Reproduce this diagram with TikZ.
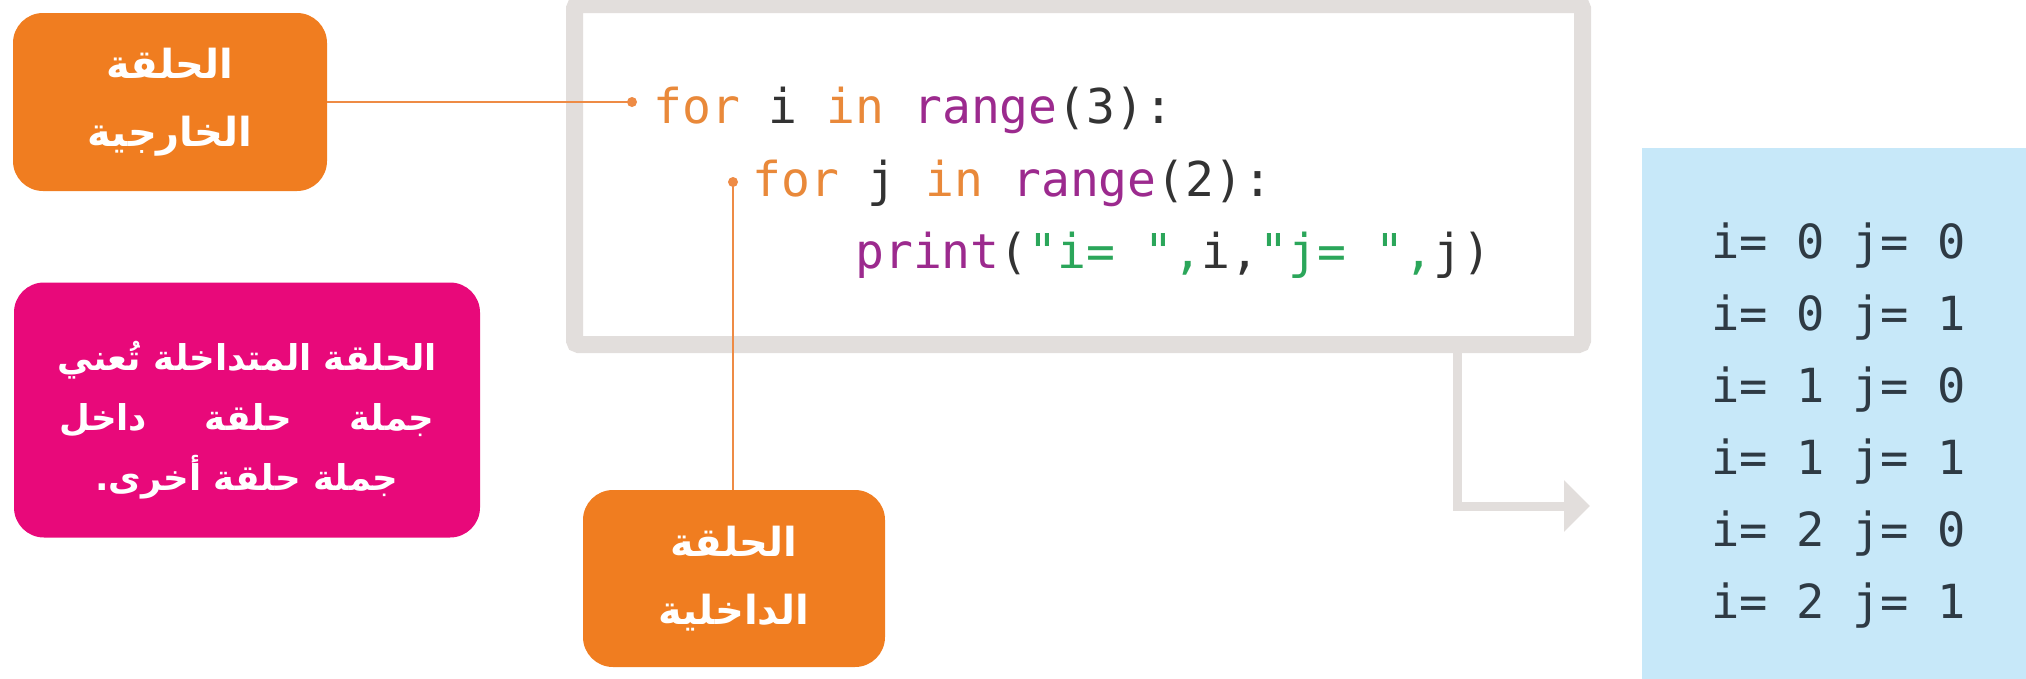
\documentclass[tikz,border=0pt]{standalone}
\usepackage{fontspec}
\usetikzlibrary{arrows.meta,calc}
\TeXXeTstate=1
\newfontfamily\arabicfont[Script=Arabic]{DejaVu Sans}
\newfontfamily\codefont{DejaVu Sans Mono}
\definecolor{boxorange}{HTML}{F07D20}
\definecolor{boxpink}{HTML}{E8097A}
\definecolor{lineorange}{HTML}{EE8B45}
\definecolor{framegray}{HTML}{E2DEDC}
\definecolor{outblue}{HTML}{C7E8F9}
\definecolor{ckwcol}{HTML}{E9893A}
\definecolor{cfncol}{HTML}{9C2A8E}
\definecolor{cstcol}{HTML}{2BA65A}
\definecolor{cvrcol}{HTML}{333333}
\definecolor{outtext}{HTML}{2E3A44}
\newcommand\ckw[1]{\textcolor{ckwcol}{#1}}
\newcommand\cfn[1]{\textcolor{cfncol}{#1}}
\newcommand\cst[1]{\textcolor{cstcol}{#1}}
\newcommand\cvr[1]{\textcolor{cvrcol}{#1}}
\tikzset{
  labelbox/.style={fill=boxorange, rounded corners=30pt, text=white, align=center,
    inner sep=0pt, outer sep=0pt,
    font=\arabicfont\bfseries\fontsize{40}{68}\selectfont},
  notebox/.style={fill=boxpink, rounded corners=30pt, inner sep=0pt, outer sep=0pt},
  notetext/.style={text=white, align=center, inner sep=0pt,
    font=\arabicfont\bfseries\fontsize{35.5}{60}\selectfont},
  codeline/.style={anchor=base west, inner sep=0pt, font=\codefont\fontsize{48}{58}\selectfont},
  outline/.style={anchor=base west, inner sep=0pt, text=outtext, font=\codefont\fontsize{47}{58}\selectfont},
  pointer/.style={draw=lineorange, line width=2.5pt},
  pdot/.style={circle, fill=lineorange, inner sep=0pt, minimum size=10pt},
  flowarrow/.style={draw=framegray, line width=9pt, -{Triangle[length=26pt,width=50pt]}}
}
\begin{document}
\begin{tikzpicture}[x=1pt,y=-1pt]
\useasboundingbox (0,0) rectangle (2026,678);

% output box
\node[fill=outblue, anchor=north west, minimum width=400pt, minimum height=540pt, inner sep=0pt, outer sep=0pt] (out) at (1642,148) {};

% code frame
\node[draw=framegray, line width=17pt, fill=white, minimum width=1008pt, minimum height=340pt, inner sep=0pt, outer sep=0pt, rounded corners=4pt] (code) at (1078.5,174.5) {};

% code lines
\node[codeline] (l1) at (653,123) {\ckw{for} \cvr{i} \ckw{in} \cfn{range}\cvr{(3):}};
\node[codeline] (l2) at (752,196) {\ckw{for} \cvr{j} \ckw{in} \cfn{range}\cvr{(2):}};
\node[codeline] (l3) at (855,268) {\cfn{print}\cvr{(}\cst{"i= ",}\cvr{i,}\cst{"j= ",}\cvr{j)}};

% output lines
\node[outline] (o1) at (1711,258) {i= 0 j= 0};
\node[outline] (o2) at (1711,330) {i= 0 j= 1};
\node[outline] (o3) at (1711,402) {i= 1 j= 0};
\node[outline] (o4) at (1711,474) {i= 1 j= 1};
\node[outline] (o5) at (1711,546) {i= 2 j= 0};
\node[outline] (o6) at (1711,618) {i= 2 j= 1};

% flow arrow
\coordinate (fstart) at ($(code.south west)+(882.5,0)$);
\coordinate (fend) at (1590,506);
\draw[flowarrow] (fstart) |- (fend);

% label boxes
\node[labelbox, minimum width=314pt, minimum height=178pt] (outer) at (170,102)
  {\beginR الحلقة\endR\\\beginR الخارجية\endR};
\node[labelbox, minimum width=302pt, minimum height=177pt] (inner) at (734,578.5)
  {\beginR الحلقة\endR\\\beginR الداخلية\endR};
\node[notebox, minimum width=466pt, minimum height=255pt] (note) at (247,410) {};
\node[notetext] (notetxt) at ($(note.center)+(0,10)$)
  {\beginR الحلقة المتداخلة تُعني\endR\\
   \hbox to 375pt{\beginR جملة\hfill حلقة\hfill داخل\endR}\\
   \beginR جملة حلقة أخرى.\endR};

% pointers
\node[pdot] (d1) at (632,102) {};
\node[pdot] (d2) at (733,182) {};
\draw[pointer] (outer.east) -- (d1.center);
\draw[pointer] (d2.center) -- (d2 |- inner.north);
\end{tikzpicture}
\end{document}
